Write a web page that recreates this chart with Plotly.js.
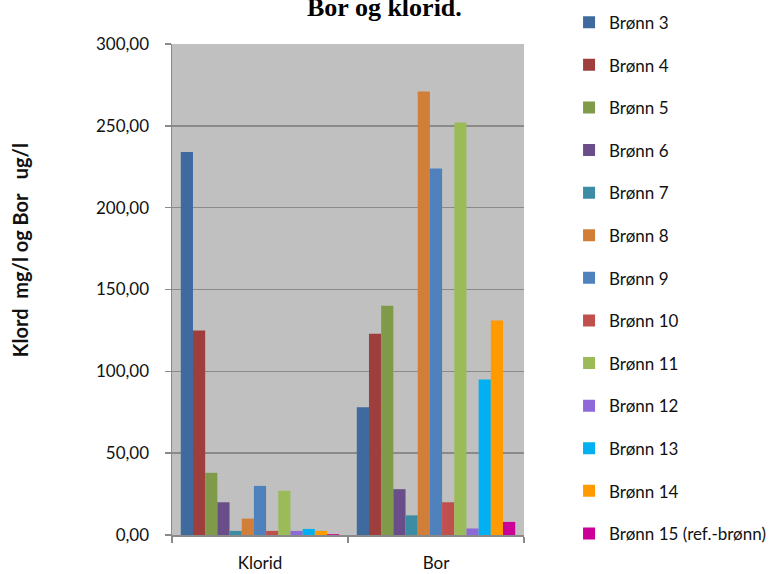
<!DOCTYPE html>
<html>
<head>
<meta charset="utf-8">
<script src="https://cdn.plot.ly/plotly-3.0.1.min.js"></script>
<style>
  html, body { margin: 0; padding: 0; background: #ffffff; }
  #chart { width: 779px; height: 574px; }
</style>
</head>
<body>
<div id="chart"></div>
<script>
// Measured parameters (x categories)
const categories = ['Klorid', 'Bor'];

// One entry per well: name, colour, [Klorid mg/l, Bor ug/l]
const wellNames = [
  'Brønn 3', 'Brønn 4', 'Brønn 5', 'Brønn 6', 'Brønn 7', 'Brønn 8', 'Brønn 9',
  'Brønn 10', 'Brønn 11', 'Brønn 12', 'Brønn 13', 'Brønn 14', 'Brønn 15 (ref.-brønn)'
];
const wellColors = [
  '#3E6A9E', '#9E3F3D', '#7F9A48', '#6A4E8A', '#3C8DA3', '#D07E38', '#4F81BD',
  '#C0504D', '#9BBB59', '#8E6AD8', '#00B0F0', '#FF9A00', '#CC0096'
];
const kloridValues = [234, 125, 38, 20, 2.5, 10, 30, 2.5, 27, 2.5, 3.7, 2.5, 0.5];
const borValues    = [78, 123, 140, 28, 12, 271, 224, 20, 252, 4, 95, 131, 8];

const yTicks = [0, 50, 100, 150, 200, 250, 300];

const labelFont = { family: 'Lato, "Open Sans", sans-serif', size: 17, color: '#111111' };

const traces = wellNames.map((name, i) => ({
  type: 'bar',
  name: name,
  x: categories,
  y: [kloridValues[i], borValues[i]],
  legendgroup: 'g' + i,
  marker: { color: wellColors[i], line: { width: 0 } },
  hoverinfo: 'name+y'
}));

const layout = {
  width: 779,
  height: 574,
  margin: { l: 172, r: 255, t: 44, b: 39, pad: 0, autoexpand: false },
  paper_bgcolor: '#ffffff',
  plot_bgcolor: '#C0C0C0',
  separators: ', ',
  barmode: 'group',
  bargap: 0.1,
  bargroupgap: 0,
  showlegend: true,
  legend: {
    x: 1.128, xanchor: 'left',
    y: 1.080, yanchor: 'top',
    traceorder: 'grouped',
    tracegroupgap: 17.5,
    maxheight: 600,
    font: labelFont,
    bgcolor: 'rgba(0,0,0,0)'
  },
  xaxis: {
    type: 'category',
    tickson: 'boundaries',
    ticks: 'outside',
    ticklen: 6,
    tickwidth: 1.5,
    tickcolor: '#8a8a8a',
    ticklabelstandoff: 12,
    showline: true,
    linecolor: '#8a8a8a',
    linewidth: 1.5,
    showgrid: false,
    zeroline: false,
    tickfont: labelFont,
    fixedrange: true
  },
  yaxis: {
    range: [0, 300],
    tickvals: yTicks,
    tickformat: '.2f',
    ticks: 'outside',
    ticklen: 6,
    tickwidth: 1.5,
    tickcolor: '#8a8a8a',
    ticklabelstandoff: 12,
    showline: true,
    linecolor: '#8a8a8a',
    linewidth: 1.5,
    showgrid: true,
    gridcolor: '#8a8a8a',
    gridwidth: 1.5,
    zeroline: false,
    tickfont: labelFont,
    fixedrange: true
  },
  annotations: [
    {
      text: '<b>Bor og klorid.</b>',
      xref: 'paper', yref: 'paper',
      x: 0.605, y: 1.0,
      xanchor: 'center', yanchor: 'bottom',
      yshift: 20,
      showarrow: false,
      font: { family: '"Liberation Serif", "Times New Roman", serif', size: 26, color: '#000000' }
    },
    {
      text: '<b>Klord&nbsp; mg/l og Bor&nbsp;&nbsp; ug/l</b>',
      xref: 'paper', yref: 'paper',
      x: -0.429, y: 0.572,
      xanchor: 'center', yanchor: 'middle',
      xshift: -1, yshift: 4,
      textangle: -90,
      showarrow: false,
      font: { family: 'Lato, "Open Sans", sans-serif', size: 20, color: '#111111' }
    }
  ]
};

Plotly.newPlot('chart', traces, layout, { displayModeBar: false, staticPlot: true });
</script>
</body>
</html>
